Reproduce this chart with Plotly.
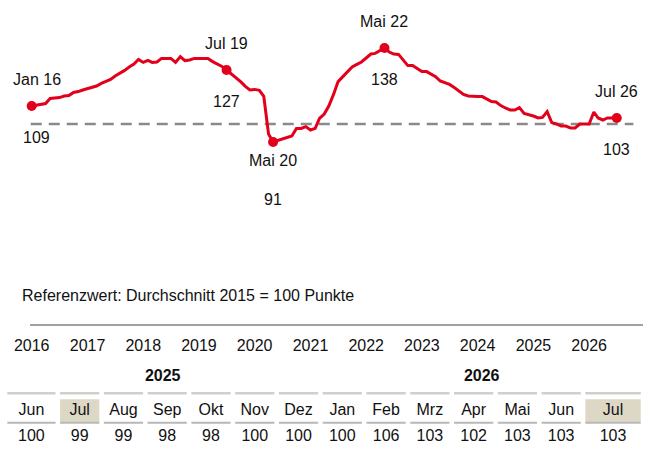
import pandas as pd
import plotly.graph_objects as go

# ---------------- data ----------------
start_month = "2016-01-01"
index_values = [
    109, 109.5, 110, 110.2, 112.8, 113, 113.2, 114, 114.2, 115.8, 116.2, 117,        # 2016
    117.7, 118.2, 119, 120.3, 121.3, 122.3, 124, 125.3, 126.8, 128.5, 130, 132.3,    # 2017
    130.8, 131.8, 130.8, 131, 132.8, 132.8, 132.8, 130.8, 133.7, 131.7, 132, 132.8,  # 2018
    132.8, 132.8, 132.8, 131.2, 130.2, 128.8, 127, 125.2, 123.2, 121.2, 118.8, 117,  # 2019
    117.3, 116.8, 113.8, 95, 91, 91.7, 92.5, 93.3, 94, 97.8, 97.8, 98.7,             # 2020
    97, 97.8, 102.8, 105, 109, 114.8, 121.2, 123.7, 126, 128.5, 129.8, 131,          # 2021
    133, 135, 135.3, 136.5, 138, 136, 135, 134.8, 132, 129.2, 129.2, 127.5,          # 2022
    126.2, 126.2, 125, 123.7, 121.5, 120.5, 119.8, 118.2, 116.5, 114.8, 114, 113.7,  # 2023
    113.7, 113.7, 112.5, 111.2, 111, 109.2, 108, 107, 107, 108.2, 105.3, 104.8,      # 2024
    104, 103, 103.3, 106.2, 100.7, 100, 99, 99, 98, 98, 100, 100,                    # 2025
    100, 106, 103, 102, 103, 103, 103,                                               # 2026
]
reference_value = 100

# labelled points: (month index, label, value text)
labelled = [
    (0, "Jan 16", "109"),
    (42, "Jul 19", "127"),
    (52, "Mai 20", "91"),
    (76, "Mai 22", "138"),
    (126, "Jul 26", "103"),
]

year_ticks = ["2016", "2017", "2018", "2019", "2020", "2021", "2022",
              "2023", "2024", "2025", "2026"]

tbl_years = ["2025"] * 7 + ["2026"] * 7
tbl_months = ["Jun", "Jul", "Aug", "Sep", "Okt", "Nov", "Dez",
              "Jan", "Feb", "Mrz", "Apr", "Mai", "Jun", "Jul"]
tbl_values = [100, 99, 99, 98, 98, 100, 100, 100, 106, 103, 102, 103, 103, 103]
tbl_highlight = ["Jul"]

note_text = "Referenzwert: Durchschnitt 2015 = 100 Punkte"

# ---------------- styles / layout constants ----------------
W, H = 650, 452
FONT = "Liberation Sans, Arial, Helvetica, sans-serif"
RED = "#E2001A"
TXT = "#111111"

dates = pd.date_range(start_month, periods=len(index_values), freq="MS")

fig = go.Figure()

# reference dashed line
fig.add_shape(type="line", xref="x", yref="y",
              x0=dates[0] - pd.Timedelta(days=6), x1=dates[-1] + pd.Timedelta(days=109),
              y0=reference_value, y1=reference_value,
              line=dict(color="#8a8a8a", width=2.5, dash="11px,7px"), layer="below")

fig.add_trace(go.Scatter(x=dates, y=index_values, mode="lines",
                         line=dict(color=RED, width=3), hoverinfo="skip",
                         xaxis="x", yaxis="y", showlegend=False))

mi = [m for m, _, _ in labelled]
fig.add_trace(go.Scatter(x=[dates[m] for m in mi], y=[index_values[m] for m in mi],
                         mode="markers", marker=dict(color=RED, size=10),
                         hoverinfo="skip", xaxis="x", yaxis="y", showlegend=False,
                         cliponaxis=False))

for k, (m, lab, val) in enumerate(labelled):
    if lab == "Mai 20":
        s1, s2 = -18, -57
    else:
        s1, s2 = 27, -31
    xs = 5 if k == 0 else 0
    for txt, sh in ((lab, s1), (val, s2)):
        fig.add_annotation(x=dates[m], y=index_values[m], xref="x", yref="y",
                           text=txt, showarrow=False, yshift=sh, xshift=xs,
                           xanchor="center", yanchor="middle",
                           font=dict(size=16, color=TXT, family=FONT))

fig.add_annotation(x=20 / W, y=1 - 295 / H, xref="paper", yref="paper",
                   text=note_text, showarrow=False, xanchor="left", yanchor="middle",
                   font=dict(size=16, color=TXT, family=FONT))

# ---------------- table (second axes, column units) ----------------
n = len(tbl_months)
half = 0.448
edges = []
for i in range(n):
    l, r = i - half, i + half
    if i == 0:
        l -= 0.206
    if i == n - 1:
        r += 0.37
    edges.append((l, r))
centers = [(l + r) / 2 for l, r in edges]

ROW_HEAD, ROW_TOPLINE, ROW_MONTH, ROW_MIDLINE, ROW_VAL = 16.7, 33.3, 50.5, 62.7, 76.5

for i, (l, r) in enumerate(edges):
    if tbl_months[i] in tbl_highlight:
        fig.add_shape(type="rect", xref="x2", yref="y2", x0=l, x1=r,
                      y0=39.3, y1=62.0, fillcolor="#DDD8C6", line_width=0, layer="below")
    fig.add_shape(type="line", xref="x2", yref="y2", x0=l, x1=r,
                  y0=ROW_TOPLINE, y1=ROW_TOPLINE, line=dict(color="#cfcfcf", width=2.5))
    fig.add_shape(type="line", xref="x2", yref="y2", x0=l, x1=r,
                  y0=ROW_MIDLINE, y1=ROW_MIDLINE, line=dict(color="#b8b8b8", width=2))

fig.add_trace(go.Scatter(x=centers, y=[ROW_MONTH] * n, text=tbl_months, mode="text",
                         textfont=dict(size=16, color=TXT, family=FONT),
                         xaxis="x2", yaxis="y2", hoverinfo="skip", showlegend=False,
                         cliponaxis=False))
fig.add_trace(go.Scatter(x=centers, y=[ROW_VAL] * n, text=[str(v) for v in tbl_values],
                         mode="text", textfont=dict(size=16, color=TXT, family=FONT),
                         xaxis="x2", yaxis="y2", hoverinfo="skip", showlegend=False,
                         cliponaxis=False))
groups = []
for yname in dict.fromkeys(tbl_years):
    idx = [i for i, y in enumerate(tbl_years) if y == yname]
    groups.append(((edges[idx[0]][0] + edges[idx[-1]][1]) / 2, yname))
fig.add_trace(go.Scatter(x=[g[0] for g in groups], y=[ROW_HEAD] * len(groups),
                         text=["<b>%s</b>" % g[1] for g in groups], mode="text",
                         textfont=dict(size=16, color=TXT, family=FONT),
                         xaxis="x2", yaxis="y2", hoverinfo="skip", showlegend=False,
                         cliponaxis=False))

# ---------------- axes ----------------
left_date = pd.Timestamp("2015-12-21")
right_date = pd.Timestamp("2026-12-20")

fig.update_layout(
    width=W, height=H, margin=dict(l=0, r=0, t=0, b=0, pad=0, autoexpand=False),
    paper_bgcolor="white", plot_bgcolor="white",
    font=dict(family=FONT, size=16, color=TXT),
    xaxis=dict(domain=[30 / W, 643 / W], type="date", range=[left_date, right_date],
               showgrid=False, zeroline=False, showline=True, linecolor="#a0a0a0",
               linewidth=2, ticks="", automargin=False,
               tickvals=[pd.Timestamp(y + "-01-01") for y in year_ticks],
               ticktext=year_ticks, tickfont=dict(size=16, color=TXT, family=FONT),
               ticklabelstandoff=6, anchor="y"),
    yaxis=dict(domain=[1 - 324 / H, 1], range=[0, 162], visible=False, anchor="x",
               automargin=False),
    xaxis2=dict(domain=[0, 1], range=[-35.93 / 43.77, (W - 35.93) / 43.77],
                visible=False, anchor="y2", automargin=False),
    yaxis2=dict(domain=[0, 92 / H], range=[92, 0], visible=False, anchor="x2",
                automargin=False),
)

fig.write_html("out.html")
